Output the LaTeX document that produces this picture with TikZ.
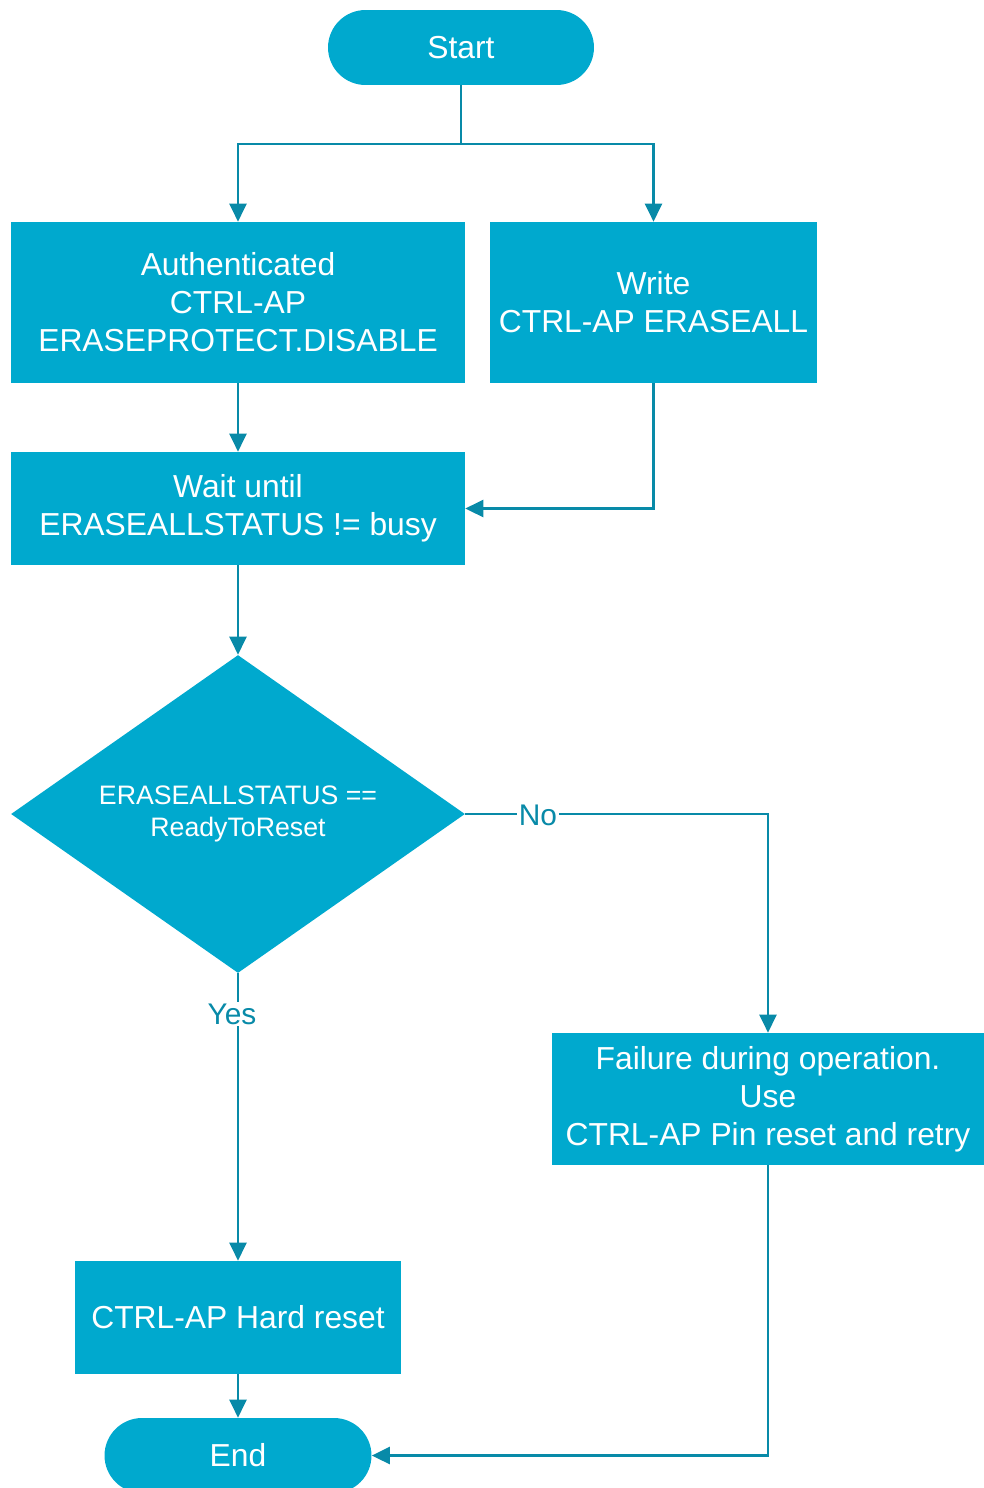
\documentclass[tikz,border=0pt]{standalone}
\usepackage{fontspec}
\setmainfont{Liberation Sans}
\usetikzlibrary{shapes.geometric,arrows.meta}

\definecolor{nordic}{RGB}{0,169,206}
\definecolor{wire}{RGB}{8,138,168}

\begin{document}
\begin{tikzpicture}[x=0.02cm, y=-0.02cm,
		base/.style={fill=nordic, text=white, align=center, inner sep=0pt,
			font=\fontsize{18.1pt}{21.6pt}\selectfont},
		term/.style={base, rounded corners=0.75cm, minimum height=1.5cm},
		block/.style={base, minimum height=2.26cm},
		decision/.style={base, diamond, aspect=1.43, minimum width=9.08cm, minimum height=6.36cm,
			font=\fontsize{15.2pt}{18.7pt}\selectfont},
		flow/.style={draw=wire, line width=1.5pt, -{Triangle[length=0.36cm, width=0.34cm]}},
		answer/.style={fill=white, text=wire, inner sep=1pt,
			font=\fontsize{17pt}{20pt}\selectfont}]
		\useasboundingbox (0,0) rectangle (984,1488);

		\draw (461,47.5) node [term, minimum width=5.32cm] (start) {Start};
		\draw (238,302.5) node [block, minimum width=9.08cm, minimum height=3.22cm] (auth) {Authenticated\\CTRL-AP\\ERASEPROTECT.DISABLE};
		\draw (653.5,302.5) node [block, minimum width=6.54cm, minimum height=3.22cm] (write) {Write\\CTRL-AP ERASEALL};
		\draw (238,508.5) node [block, minimum width=9.08cm] (wait) {Wait until\\ERASEALLSTATUS != busy};
		\draw (238,814) node [decision] (check) {ERASEALLSTATUS ==\\ReadyToReset};
		\draw (768,1099) node [block, minimum width=8.64cm, minimum height=2.64cm] (fail) {Failure during operation.\\Use\\CTRL-AP Pin reset and retry};
		\draw (238,1317.5) node [block, minimum width=6.54cm] (hard) {CTRL-AP Hard reset};
		\draw (238,1455.5) node [term, minimum width=5.34cm] (end) {End};
		\coordinate (split) at (461,144);

		\draw [draw=wire, line width=1.5pt] (start) -- (split);
		\draw [flow] (split) -| (auth);
		\draw [flow] (split) -| (write);
		\draw [flow] (auth) -- (wait);
		\draw [flow] (write) |- (wait);
		\draw [flow] (wait) -- (check);
		\draw [flow] (check.east) -| (fail.north);
		\draw [flow] (check.south) -- (hard);
		\draw [flow] (hard) -- (end);
		\draw [flow] (fail) |- (end);

		\draw (538,815) node [answer] (no) {No};
		\draw (232,1014) node [answer] (yes) {Yes};
	\end{tikzpicture}
\end{document}
